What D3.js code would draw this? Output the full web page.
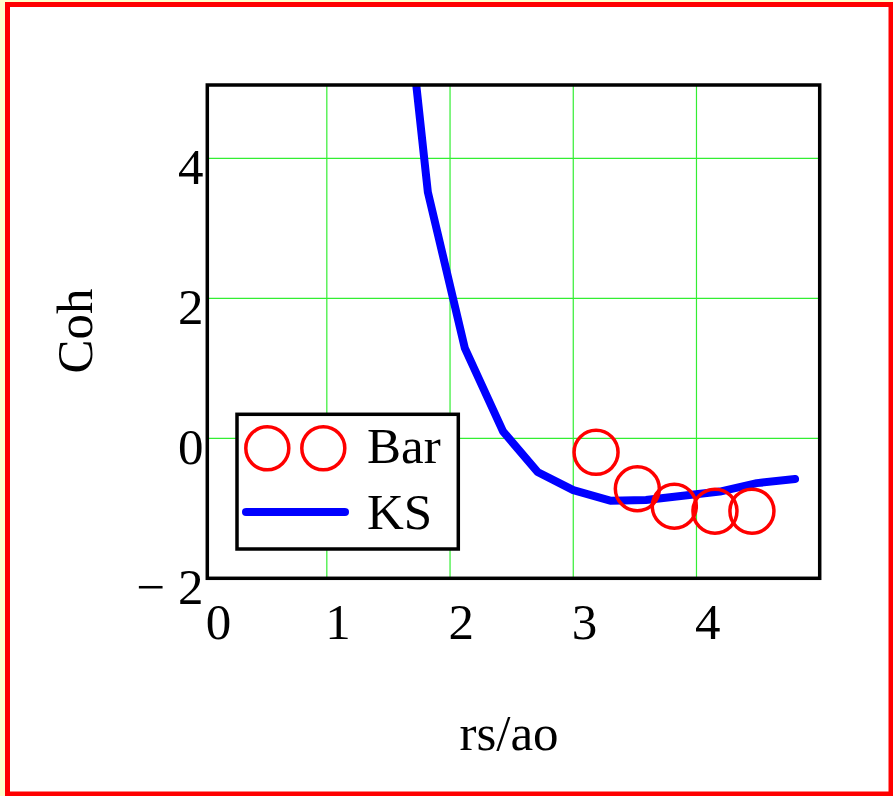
<!DOCTYPE html>
<html>
<head>
<meta charset="utf-8">
<script src="https://cdn.jsdelivr.net/npm/d3@7"></script>
<style>
  html, body { margin: 0; padding: 0; background: #ffffcc; }
  svg { display: block; }
  text { font-family: "Liberation Serif", "Times New Roman", serif; fill: #000; }
</style>
</head>
<body>
<svg id="chart" width="893" height="796"></svg>
<script>
// ---- data ----
const ksX = [1.52, 1.82, 2.12, 2.43, 2.71, 3.00, 3.30, 3.59, 3.89, 4.19, 4.49, 4.80];
const ksY = [8.4, 3.52, 1.29, 0.10, -0.48, -0.74, -0.89, -0.88, -0.82, -0.76, -0.64, -0.58];
const barX = [3.185, 3.52, 3.82, 4.15, 4.45];
const barY = [-0.20, -0.72, -0.97, -1.04, -1.04];
const xTicks = [0, 1, 2, 3, 4];
const yTicks = [-2, 0, 2, 4];
const yTickLabels = ["\u2212 2", "0", "2", "4"];
const seriesNames = ["Bar", "KS"];
const xTitle = "rs/ao";
const yTitle = "Coh";

// ---- layout ----
const svg = d3.select("#chart");
const L = 207.3, R = 819.7, T = 85, B = 578.3;
const x = d3.scaleLinear().domain([0.03, 5]).range([L, R]);
const y = d3.scaleLinear().domain([-2, 5.05]).range([B, T]);

// page frame
svg.append("rect").attr("x", 7.5).attr("y", 4.5).attr("width", 883.5).attr("height", 789.5)
  .attr("fill", "#fff").attr("stroke", "#ff0000").attr("stroke-width", 5);

// clip
svg.append("defs").append("clipPath").attr("id", "plotclip")
  .append("rect").attr("x", L).attr("y", T).attr("width", R - L).attr("height", B - T);

// grid
const g = svg.append("g");
g.selectAll(".gx").data(xTicks.filter(d => x(d) > L + 2)).enter().append("line")
  .attr("x1", d => x(d)).attr("x2", d => x(d)).attr("y1", T).attr("y2", B)
  .attr("stroke", "#33ee33").attr("stroke-width", 1.2);
g.selectAll(".gy").data(yTicks.filter(d => y(d) < B - 2)).enter().append("line")
  .attr("x1", L).attr("x2", R).attr("y1", d => y(d)).attr("y2", d => y(d))
  .attr("stroke", "#33ee33").attr("stroke-width", 1.2);

// KS line
const ksData = ksX.map((v, i) => [v, ksY[i]]);
svg.append("path").datum(ksData)
  .attr("clip-path", "url(#plotclip)")
  .attr("d", d3.line().x(d => x(d[0])).y(d => y(d[1])))
  .attr("fill", "none").attr("stroke", "#0000ff").attr("stroke-width", 8)
  .attr("stroke-linejoin", "round").attr("stroke-linecap", "round");

// Bar circles
const barData = barX.map((v, i) => [v, barY[i]]);
svg.append("g").selectAll("circle").data(barData).enter().append("circle")
  .attr("cx", d => x(d[0])).attr("cy", d => y(d[1])).attr("r", 22)
  .attr("fill", "none").attr("stroke", "#ff0000").attr("stroke-width", 3.5);

// frame
svg.append("rect").attr("x", L).attr("y", T).attr("width", R - L).attr("height", B - T)
  .attr("fill", "none").attr("stroke", "#000").attr("stroke-width", 3.5);

// tick labels
svg.append("g").selectAll("text").data(xTicks).enter().append("text")
  .attr("x", d => Math.max(x(d), L) - 1.5).attr("y", 639)
  .attr("font-size", 51).attr("text-anchor", "start").text(d => d);
svg.append("g").selectAll("text").data(yTicks).enter().append("text")
  .attr("x", 203.5).attr("y", d => y(d) + 26)
  .attr("font-size", 51).attr("text-anchor", "end").text((d, i) => yTickLabels[i]);

// axis titles
svg.append("text").attr("x", 509).attr("y", 750).attr("font-size", 51)
  .attr("text-anchor", "middle").text(xTitle);
svg.append("text").attr("transform", "translate(92,331) rotate(-90)").attr("font-size", 51)
  .attr("text-anchor", "middle").text(yTitle);

// legend
const lg = svg.append("g");
lg.append("rect").attr("x", 237).attr("y", 414.3).attr("width", 221.3).attr("height", 134.7)
  .attr("fill", "#fff").attr("stroke", "#000").attr("stroke-width", 3.5);
[267.3, 323.3].forEach(cx => {
  lg.append("circle").attr("cx", cx).attr("cy", 448.3).attr("r", 21.5)
    .attr("fill", "none").attr("stroke", "#ff0000").attr("stroke-width", 3.5);
});
lg.append("line").attr("x1", 246).attr("x2", 345).attr("y1", 512).attr("y2", 512)
  .attr("stroke", "#0000ff").attr("stroke-width", 8).attr("stroke-linecap", "round");
lg.append("text").attr("x", 367).attr("y", 463).attr("font-size", 51).text(seriesNames[0]);
lg.append("text").attr("x", 367).attr("y", 529).attr("font-size", 51).text(seriesNames[1]);
</script>
</body>
</html>
